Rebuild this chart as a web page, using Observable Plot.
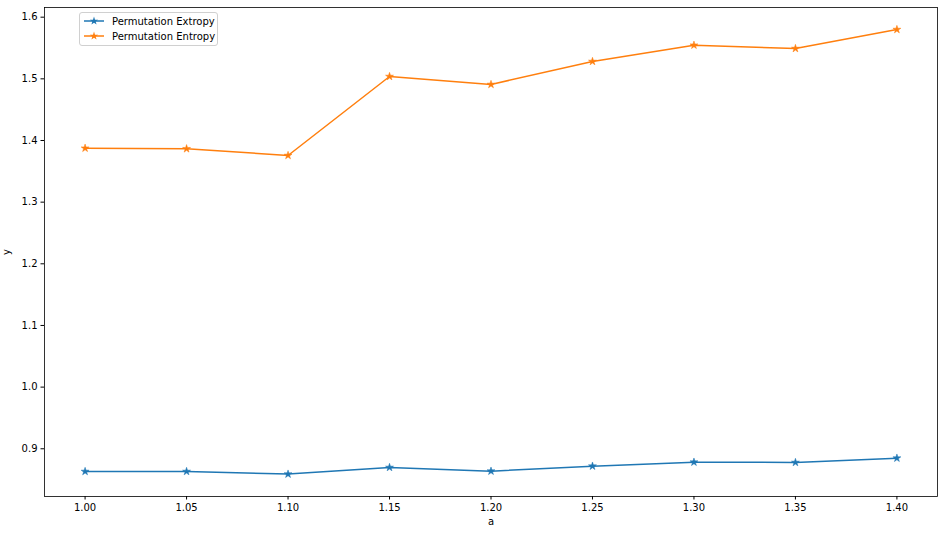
<!DOCTYPE html>
<html>
<head>
<meta charset="utf-8">
<script src="https://cdn.jsdelivr.net/npm/d3@7"></script>
<script src="https://cdn.jsdelivr.net/npm/@observablehq/plot@0.6"></script>
<style>
  html, body { margin: 0; padding: 0; background: #fff; }
  #wrap { position: relative; width: 944px; height: 534px; font-family: "DejaVu Sans", sans-serif; }
  #legend { position: absolute; left: 79px; top: 12px; width: 137px; height: 32px;
            border: 1px solid #d0d0d0; border-radius: 3px; background: rgba(255,255,255,0.8);
            font-size: 10px; color: #000; }
  .row { position: absolute; left: 3px; height: 14px; display: flex; align-items: center; }
  .row span { margin-left: 7px; }
</style>
</head>
<body>
<div id="wrap"></div>
<script>
const aValues = [1.00, 1.05, 1.10, 1.15, 1.20, 1.25, 1.30, 1.35, 1.40];
const extropy = [0.8632, 0.8632, 0.8589, 0.8697, 0.8637, 0.8718, 0.8783, 0.8778, 0.8848];
const entropy = [1.3875, 1.3866, 1.3757, 1.5038, 1.4909, 1.5282, 1.5546, 1.5492, 1.5800];
const seriesNames = ["Permutation Extropy", "Permutation Entropy"];
const seriesColors = ["#1f77b4", "#ff7f0e"];
const xTicks = [1.00, 1.05, 1.10, 1.15, 1.20, 1.25, 1.30, 1.35, 1.40];
const yTicks = [0.9, 1.0, 1.1, 1.2, 1.3, 1.4, 1.5, 1.6];

const rows = [];
aValues.forEach((a, i) => {
  rows.push({a, y: extropy[i], s: seriesNames[0]});
  rows.push({a, y: entropy[i], s: seriesNames[1]});
});

const chart = Plot.plot({
  width: 944,
  height: 534,
  marginLeft: 44,
  marginRight: 7,
  marginTop: 7,
  marginBottom: 38,
  style: {fontFamily: "DejaVu Sans, sans-serif", fontSize: "10px", color: "#000", background: "#fff"},
  x: {domain: [0.98, 1.42]},
  y: {domain: [0.8226, 1.6157]},
  color: {domain: seriesNames, range: seriesColors},
  marks: [
    Plot.frame({stroke: "#000", strokeWidth: 0.8}),
    Plot.axisX({ticks: xTicks, tickFormat: d3.format(".2f"), tickSize: 3.5, tickPadding: 3.5,
      label: "a", labelAnchor: "center", labelArrow: "none", labelOffset: 28, fontSize: 10}),
    Plot.axisY({ticks: yTicks, tickFormat: d3.format(".1f"), tickSize: 3.5, tickPadding: 3.5,
      label: "y", labelAnchor: "center", labelArrow: "none", labelOffset: 42, fontSize: 10}),
    Plot.line(rows, {x: "a", y: "y", z: "s", stroke: "s", strokeWidth: 1.5}),
    Plot.dot(rows, {x: "a", y: "y", fill: "s", stroke: "s", strokeWidth: 0.5, symbol: "star", r: 2.5})
  ]
});
const wrap = document.getElementById("wrap");
wrap.appendChild(chart);

const leg = document.createElement("div");
leg.id = "legend";
seriesNames.forEach((name, i) => {
  const row = document.createElement("div");
  row.className = "row";
  row.style.top = (i * 15 + 1) + "px";
  row.innerHTML = `<svg width="22" height="10"><line x1="1" x2="21" y1="5" y2="5" stroke="${seriesColors[i]}" stroke-width="1.5"/></svg><span>${name}</span>`;
  const svg = row.querySelector("svg");
  const star = d3.symbol(d3.symbolStar, 22)();
  const p = document.createElementNS("http://www.w3.org/2000/svg", "path");
  p.setAttribute("d", star);
  p.setAttribute("transform", "translate(11,5)");
  p.setAttribute("fill", seriesColors[i]);
  svg.appendChild(p);
  leg.appendChild(row);
});
wrap.appendChild(leg);
</script>
</body>
</html>
